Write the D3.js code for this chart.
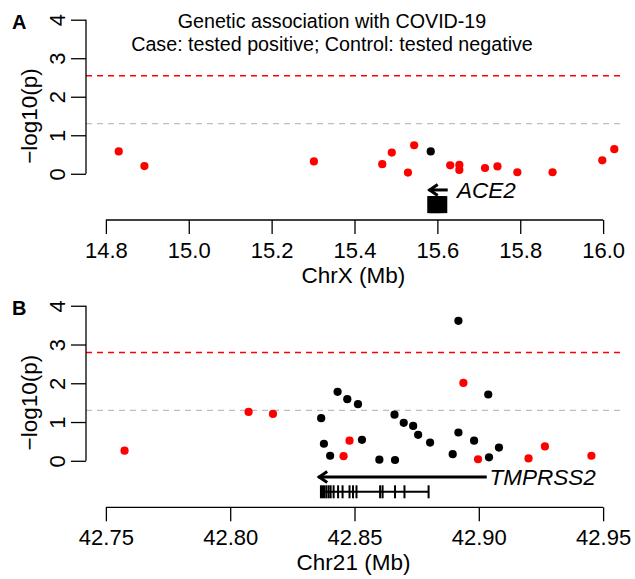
<!DOCTYPE html>
<html>
<head>
<meta charset="utf-8">
<script src="https://cdn.jsdelivr.net/npm/d3@7"></script>
<style>
  body { margin: 0; background: #fff; }
  svg text { font-family: "Liberation Sans", Arial, Helvetica, sans-serif; }
</style>
</head>
<body>
<svg id="plot" width="635" height="579"></svg>
<script>
// panel A: ACE2 region, chrX
const aceMb = [14.831, 14.893, 15.302, 15.467, 15.490, 15.529, 15.544, 15.584, 15.631, 15.653, 15.653, 15.715, 15.745, 15.793, 15.878, 15.998, 16.027];
const aceLogP = [0.58, 0.20, 0.32, 0.25, 0.55, 0.03, 0.74, 0.58, 0.22, 0.23, 0.10, 0.15, 0.19, 0.04, 0.04, 0.35, 0.64];
const aceGroup = [1, 1, 1, 1, 1, 1, 1, 0, 1, 1, 1, 1, 1, 1, 1, 1, 1];
const aceThresholds = [2.545, 1.301];
const aceTicks = [14.8, 15.0, 15.2, 15.4, 15.6, 15.8, 16.0];
const aceGene = [15.5792, 15.6203];
const aceArrow = [15.6250, 15.5790];
const aceLabelMb = 15.6475;
const aceExonStart = [15.5792, 15.5818, 15.5836, 15.5862, 15.5880, 15.5903, 15.5925, 15.5946, 15.5962, 15.5985, 15.6004, 15.6021, 15.6040, 15.6065, 15.6090, 15.6118, 15.6160, 15.6203];
const aceExonEnd = aceExonStart;

// panel B: TMPRSS2 region, chr21
const tmpMb = [42.7575, 42.8074, 42.8172, 42.8366, 42.8377, 42.8402, 42.8432, 42.8456, 42.8480, 42.8471, 42.8514, 42.8530, 42.8600, 42.8663, 42.8661, 42.8698, 42.8736, 42.8756, 42.8804, 42.8895, 42.8918, 42.8918, 42.8938, 42.8981, 42.8997, 42.9038, 42.9041, 42.9081, 42.9200, 42.9266, 42.9453];
const tmpLogP = [0.26, 1.26, 1.21, 1.10, 0.44, 0.13, 1.78, 0.12, 0.52, 1.59, 1.46, 0.54, 0.03, 0.02, 1.19, 0.98, 0.90, 0.67, 0.47, 0.17, 3.61, 0.73, 2.01, 0.52, 0.04, 1.71, 0.09, 0.34, 0.06, 0.37, 0.13];
const tmpGroup = [1, 1, 1, 0, 0, 0, 0, 1, 1, 0, 0, 0, 0, 0, 0, 0, 0, 0, 0, 0, 0, 0, 1, 0, 1, 0, 0, 0, 1, 1, 1];
const tmpThresholds = [2.794, 1.301];
const tmpTicks = [42.75, 42.80, 42.85, 42.90, 42.95];
const tmpGene = [42.8366, 42.8798];
const tmpArrow = [42.9032, 42.8354];
const tmpLabelMb = 42.9043;
const tmpExonStart = [42.8365, 42.8387, 42.8396, 42.8404, 42.8416, 42.8434, 42.8452, 42.8480, 42.8494, 42.8508, 42.8603, 42.8613, 42.8663, 42.8701, 42.8798];
const tmpExonEnd = [42.8379, 42.8387, 42.8396, 42.8404, 42.8416, 42.8434, 42.8452, 42.8480, 42.8494, 42.8508, 42.8603, 42.8613, 42.8663, 42.8701, 42.8798];

const yTicks = [0, 1, 2, 3, 4];
const Y_DOMAIN = [-1.2, 4.2];
const GENE_Y = -0.8;
const ARROW_Y = -0.42;
const LEFT = 86, RIGHT = 623;

const svg = d3.select('#plot');
const colour = d3.scaleOrdinal().domain([0, 1]).range(['#000000', '#ff0000']);
const thresholdColour = ['#ff0000', '#bebebe'];

function drawPanel(p) {
	const g = svg.append('g');
	const x = d3.scaleLinear().domain(p.xDomain).range([LEFT, RIGHT]);
	const y = d3.scaleLinear().domain(Y_DOMAIN).range([p.bottom, p.top]);

	// threshold lines
	g.selectAll('line.thr')
		.data(p.thresholds)
		.enter()
		.append('line')
		.attr('x1', LEFT).attr('x2', RIGHT)
		.attr('y1', (d) => y(d)).attr('y2', (d) => y(d))
		.attr('stroke', (d, i) => thresholdColour[i])
		.attr('stroke-width', 1.4)
		.attr('stroke-dasharray', '6,5');

	// y axis (line only from 0 to 4, like R)
	const yAxis = d3.axisLeft(y).tickValues(yTicks).tickSize(15).tickFormat(d3.format('d'));
	const ya = g.append('g').attr('transform', 'translate(' + LEFT + ',0)').call(yAxis);
	ya.select('.domain').remove();
	ya.append('line').attr('x1', 0).attr('x2', 0).attr('y1', y(0)).attr('y2', y(4))
		.attr('stroke', '#000').attr('stroke-width', 1.3);
	ya.selectAll('.tick line').attr('stroke-width', 1.3);
	ya.selectAll('.tick text')
		.attr('transform', 'rotate(-90)')
		.attr('x', 0).attr('y', -21).attr('dy', 0)
		.attr('text-anchor', 'middle')
		.attr('fill', '#000')
		.style('font-size', '22px');

	// x axis
	const xAxis = d3.axisBottom(x).tickValues(p.ticks).tickSize(14).tickSizeOuter(0).tickFormat(d3.format(p.fmt));
	const xa = g.append('g').attr('transform', 'translate(0,' + p.axisY + ')').call(xAxis);
	xa.select('.domain').remove();
	xa.append('line').attr('x1', x(p.ticks[0])).attr('x2', x(p.ticks[p.ticks.length - 1]))
		.attr('stroke', '#000').attr('stroke-width', 1.3);
	xa.selectAll('.tick line').attr('stroke-width', 1.3);
	xa.selectAll('.tick text')
		.attr('y', 37.7).attr('dy', 0)
		.attr('fill', '#000')
		.style('font-size', '22px');

	// axis titles
	g.append('text')
		.attr('x', (LEFT + RIGHT) / 2 - 1).attr('y', p.axisY + 63)
		.attr('text-anchor', 'middle')
		.style('font-size', '22.5px')
		.text(p.xLabel);
	g.append('text')
		.attr('transform', 'translate(37,' + (p.top + p.bottom) / 2 + ') rotate(-90)')
		.attr('text-anchor', 'middle')
		.style('font-size', '22.5px')
		.text('\u2212log10(p)');

	// panel letter
	g.append('text')
		.attr('x', 12).attr('y', p.top + 16.5)
		.style('font-size', '20px').style('font-weight', 'bold')
		.text(p.letter);

	// gene: direction arrow
	const ay = y(ARROW_Y);
	const tip = x(p.arrow[1]);
	g.append('line')
		.attr('x1', x(p.arrow[0])).attr('x2', tip)
		.attr('y1', ay).attr('y2', ay)
		.attr('stroke', '#000').attr('stroke-width', 3);
	g.append('path')
		.attr('d', 'M' + (tip + 9) + ',' + (ay - 5.5) + 'L' + (tip + 1) + ',' + ay + 'L' + (tip + 9) + ',' + (ay + 5.5))
		.attr('fill', 'none').attr('stroke', '#000').attr('stroke-width', 3);
	g.append('text')
		.attr('x', x(p.labelMb)).attr('y', ay + 8)
		.style('font-size', '22.5px').style('font-style', 'italic')
		.text(p.geneName);

	// gene: body + exons
	const gy = y(GENE_Y);
	g.append('line')
		.attr('x1', x(p.gene[0])).attr('x2', x(p.gene[1]))
		.attr('y1', gy).attr('y2', gy)
		.attr('stroke', '#000').attr('stroke-width', 2);
	g.selectAll('rect.exon')
		.data(p.exonStart)
		.enter()
		.append('rect')
		.attr('x', (d, i) => x(d) - p.exonW / 2)
		.attr('width', (d, i) => x(p.exonEnd[i]) - x(d) + p.exonW)
		.attr('y', gy - p.exonH / 2)
		.attr('height', p.exonH)
		.attr('fill', '#000');

	// points
	g.selectAll('circle')
		.data(p.mb)
		.enter()
		.append('circle')
		.attr('cx', (d) => x(d))
		.attr('cy', (d, i) => y(p.logp[i]))
		.attr('r', 4.1)
		.attr('fill', (d, i) => colour(p.group[i]));
}

drawPanel({
	letter: 'A', top: 12, bottom: 220, axisY: 220,
	xDomain: [14.752, 16.048], ticks: aceTicks, fmt: '.1f', xLabel: 'ChrX (Mb)',
	mb: aceMb, logp: aceLogP, group: aceGroup, thresholds: aceThresholds,
	gene: aceGene, arrow: aceArrow, labelMb: aceLabelMb, geneName: 'ACE2',
	exonStart: aceExonStart, exonEnd: aceExonEnd, exonW: 3, exonH: 17
});

drawPanel({
	letter: 'B', top: 298, bottom: 507.3, axisY: 507.3,
	xDomain: [42.742, 42.958], ticks: tmpTicks, fmt: '.2f', xLabel: 'Chr21 (Mb)',
	mb: tmpMb, logp: tmpLogP, group: tmpGroup, thresholds: tmpThresholds,
	gene: tmpGene, arrow: tmpArrow, labelMb: tmpLabelMb, geneName: 'TMPRSS2',
	exonStart: tmpExonStart, exonEnd: tmpExonEnd, exonW: 2, exonH: 13
});

// title inside panel A
const title = svg.append('text').attr('text-anchor', 'middle').style('font-size', '19.7px');
title.append('tspan').attr('x', 332).attr('y', 28.3).text('Genetic association with COVID-19');
title.append('tspan').attr('x', 332).attr('y', 50.7).text('Case: tested positive; Control: tested negative');
</script>
</body>
</html>
